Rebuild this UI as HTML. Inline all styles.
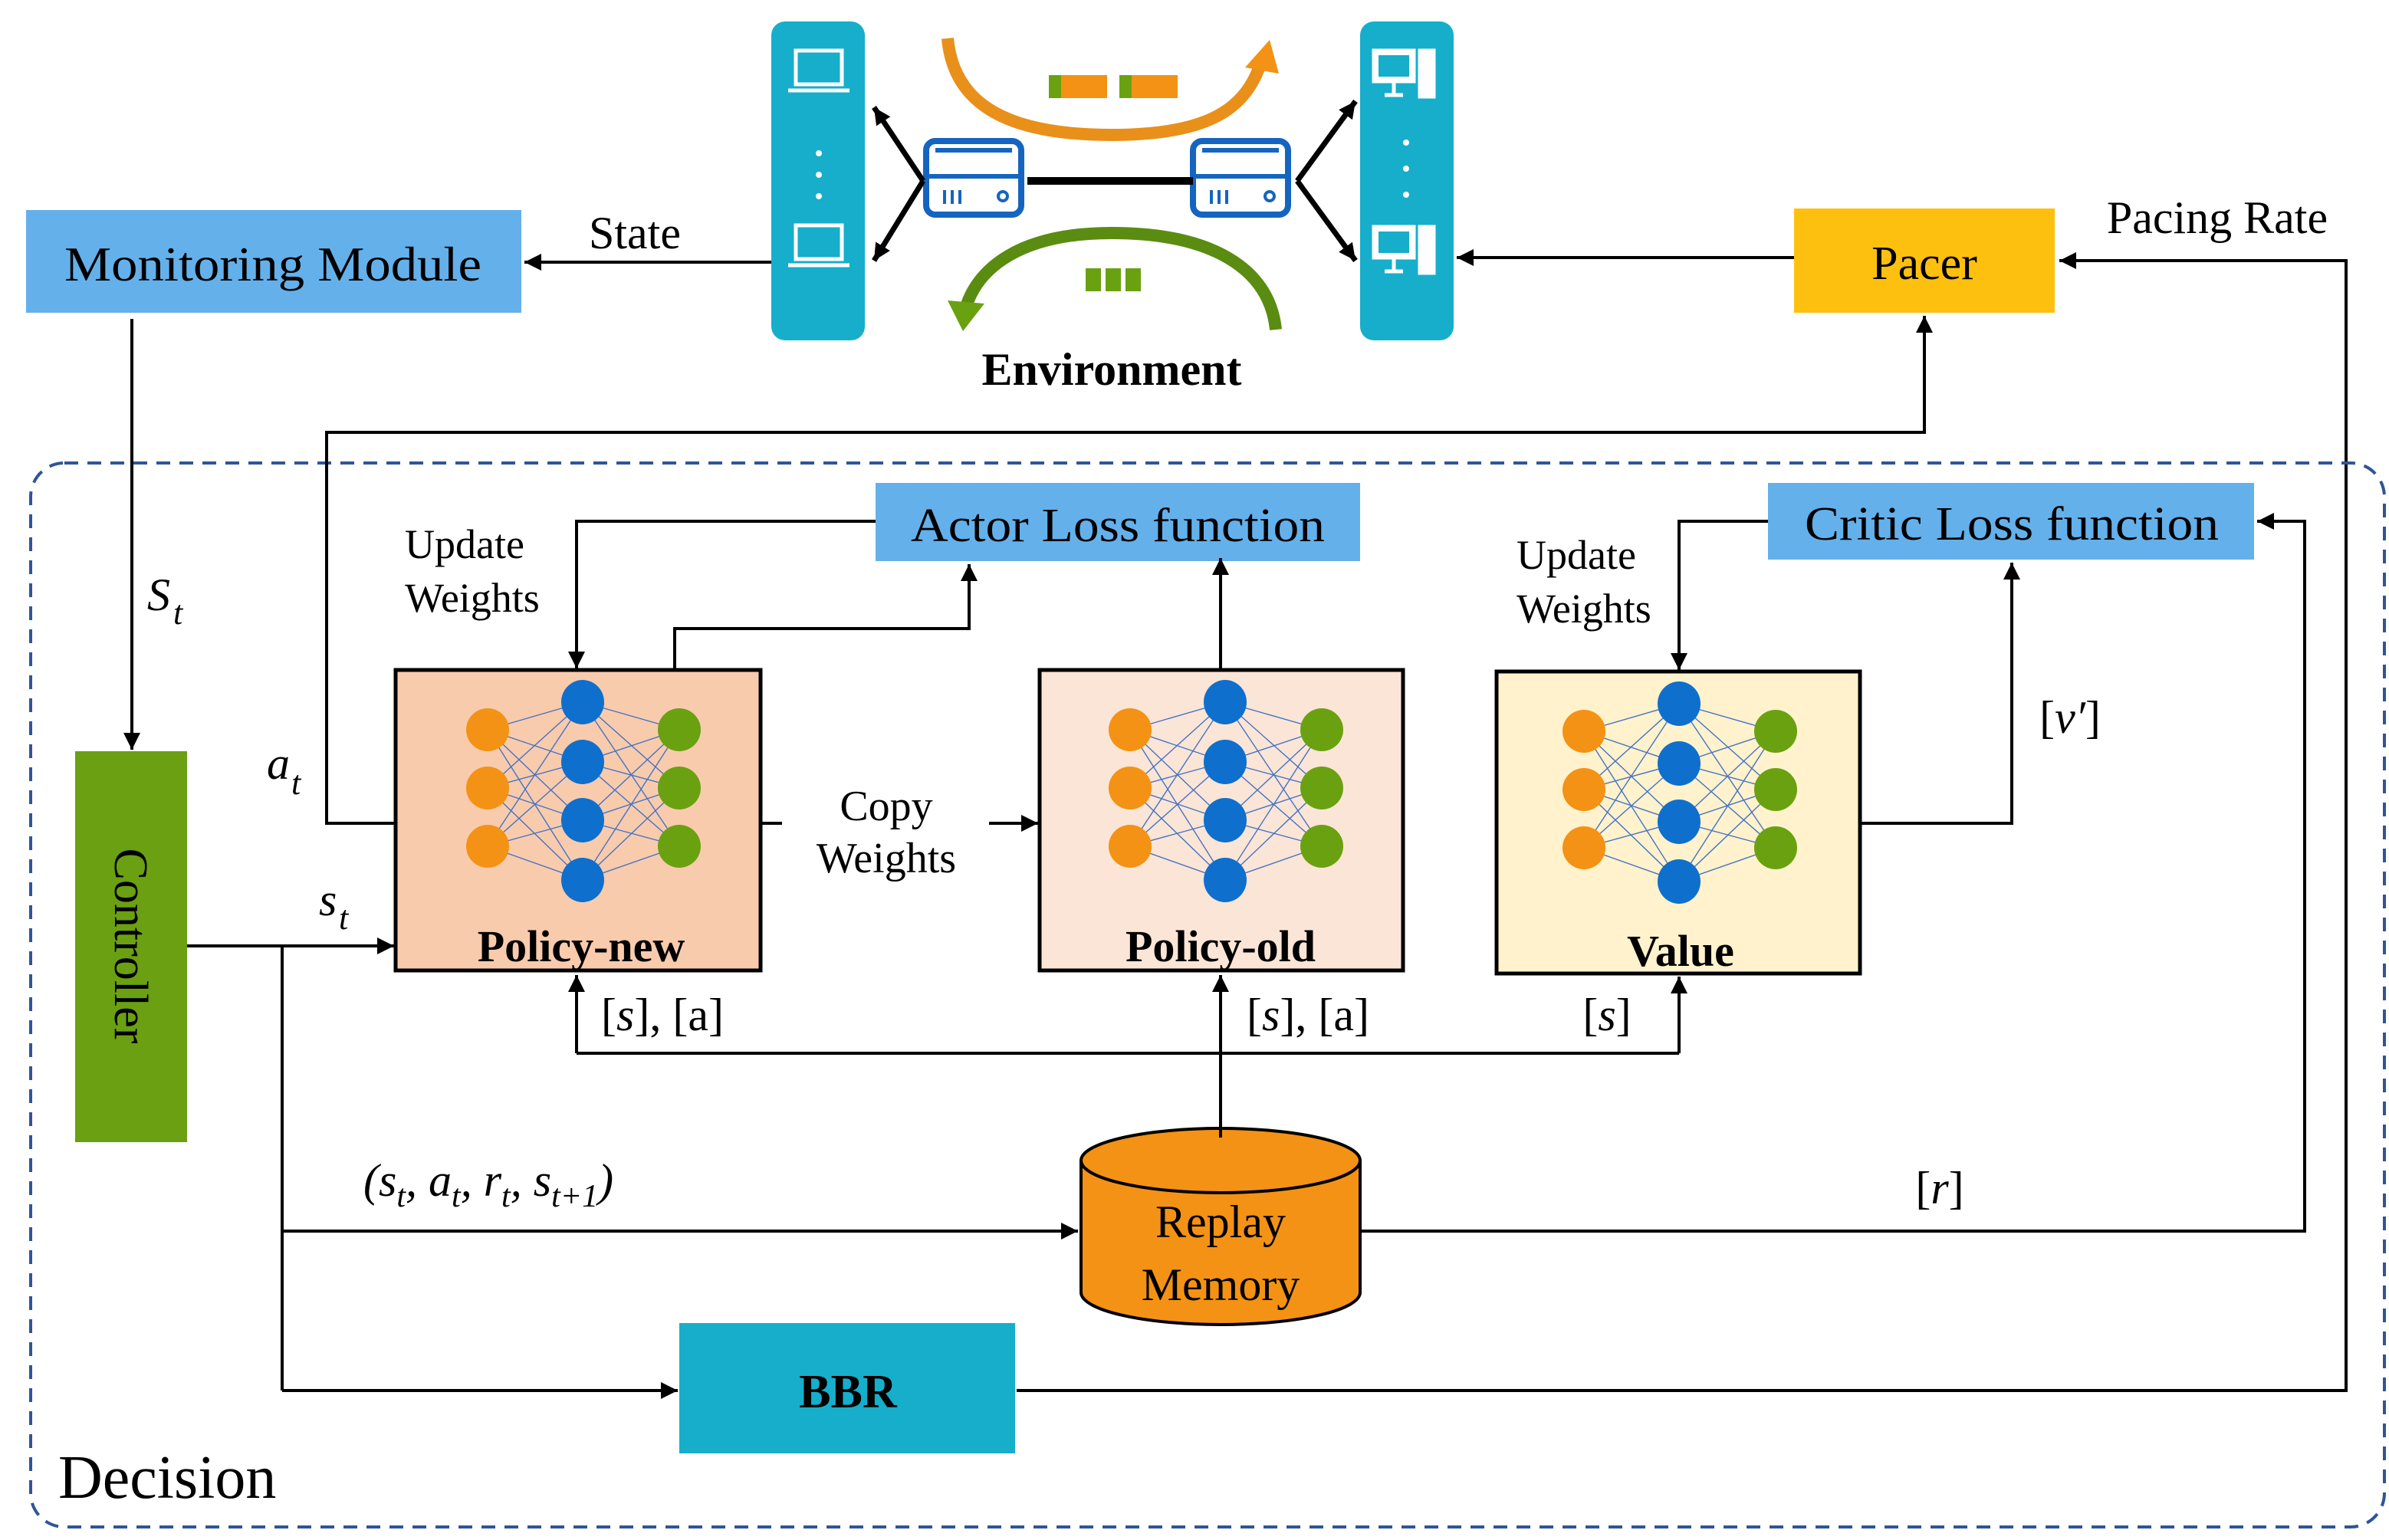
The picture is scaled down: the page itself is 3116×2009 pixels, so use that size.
<!DOCTYPE html>
<html><head><meta charset="utf-8"><style>
html,body{margin:0;padding:0;background:#fff}
svg{display:block}
text{font-family:"Liberation Serif",serif;fill:#000}
</style></head><body>
<svg width="3116" height="2009" viewBox="0 0 1558 1004.5" xmlns="http://www.w3.org/2000/svg">
<defs>
<marker id="ar" viewBox="0 0 10 10" refX="10" refY="5" markerWidth="5" markerHeight="5" orient="auto" markerUnits="userSpaceOnUse">
<path d="M0,0 L10,5 L0,10 z" fill="#000"/></marker>
<marker id="ar2" viewBox="0 0 10 10" refX="10" refY="5" markerWidth="11" markerHeight="11" orient="auto" markerUnits="userSpaceOnUse">
<path d="M0,0 L10,5 L0,10 z" fill="#000"/></marker>
<g id="nn">
<g stroke="#4472c4" stroke-width="0.7">
<path d="M60,39L122,21M60,39L122,60M60,39L122,98M60,39L122,137M60,77L122,21M60,77L122,60M60,77L122,98M60,77L122,137M60,115L122,21M60,115L122,60M60,115L122,98M60,115L122,137"/>
<path d="M185,39L122,21M185,39L122,60M185,39L122,98M185,39L122,137M185,77L122,21M185,77L122,60M185,77L122,98M185,77L122,137M185,115L122,21M185,115L122,60M185,115L122,98M185,115L122,137"/>
</g>
<g fill="#f39214"><ellipse cx="60" cy="39" rx="14" ry="14"/><ellipse cx="60" cy="77" rx="14" ry="14"/><ellipse cx="60" cy="115" rx="14" ry="14"/></g>
<g fill="#0f6fcd"><ellipse cx="122" cy="21" rx="14" ry="14.5"/><ellipse cx="122" cy="60" rx="14" ry="14.5"/><ellipse cx="122" cy="98" rx="14" ry="14.5"/><ellipse cx="122" cy="137" rx="14" ry="14.5"/></g>
<g fill="#6aa111"><ellipse cx="185" cy="39" rx="14" ry="14"/><ellipse cx="185" cy="77" rx="14" ry="14"/><ellipse cx="185" cy="115" rx="14" ry="14"/></g>
</g>
<g id="router">
<rect x="2" y="2" width="62" height="48" rx="6" fill="#fff" stroke="#1565c0" stroke-width="4"/>
<path d="M4,25 H62 M8,8 H58" stroke="#1565c0" stroke-width="3"/>
<path d="M14,34 v9 M19,34 v9 M24,34 v9" stroke="#1565c0" stroke-width="2"/>
<circle cx="52" cy="38" r="3" fill="none" stroke="#1565c0" stroke-width="2"/>
</g>
<g id="laptop" fill="none" stroke="#fff" stroke-width="2.5">
<rect x="-15" y="-13" width="30" height="22"/><path d="M-20,13 H20"/>
</g>
<g id="desk" fill="none" stroke="#fff" stroke-width="2.5">
<rect x="-20" y="-14" width="26" height="20" fill="#fff"/><rect x="-17" y="-11" width="20" height="14" fill="#16aecb" stroke="none"/>
<path d="M-7,6 v8 M-13,15 H-1"/><rect x="10" y="-14" width="9" height="30" fill="#fff"/>
</g>
</defs>

<!-- Monitoring Module -->
<rect x="17" y="137" width="323" height="67" fill="#64b0ea"/>
<text x="178" y="183" font-size="32" text-anchor="middle" textLength="272" lengthAdjust="spacingAndGlyphs">Monitoring Module</text>
<text x="414" y="162" font-size="30" text-anchor="middle">State</text>
<line x1="503" y1="171" x2="342" y2="171" stroke="#000" stroke-width="2" marker-end="url(#ar2)"/>

<!-- Environment -->
<rect x="503" y="14" width="61" height="208" rx="9" fill="#16aecb"/>
<rect x="887" y="14" width="61" height="208" rx="9" fill="#16aecb"/>
<use href="#laptop" x="534" y="46"/><use href="#laptop" x="534" y="160"/>
<g fill="#fff"><circle cx="534" cy="100" r="2"/><circle cx="534" cy="114" r="2"/><circle cx="534" cy="128" r="2"/>
<circle cx="917" cy="93" r="2"/><circle cx="917" cy="110" r="2"/><circle cx="917" cy="127" r="2"/></g>
<use href="#desk" x="916" y="47"/><use href="#desk" x="916" y="162"/>
<use href="#router" x="602" y="90"/><use href="#router" x="776" y="90"/>
<line x1="670" y1="118" x2="778" y2="118" stroke="#000" stroke-width="5"/>
<g stroke="#000" stroke-width="3.5">
<line x1="602" y1="118" x2="570" y2="70" marker-end="url(#ar2)"/>
<line x1="602" y1="118" x2="570" y2="170" marker-end="url(#ar2)"/>
<line x1="846" y1="118" x2="884" y2="66" marker-end="url(#ar2)"/>
<line x1="846" y1="118" x2="884" y2="170" marker-end="url(#ar2)"/>
</g>
<path d="M618,25 C622,70 660,88 725,88 C790,88 812,70 822,42" fill="none" stroke="#e8901a" stroke-width="8"/>
<path d="M812,44 L828,26 L834,48 z" fill="#f39214"/>
<rect x="684" y="49" width="8" height="15" fill="#6aa111"/><rect x="692" y="49" width="30" height="15" fill="#f39214"/>
<rect x="730" y="49" width="8" height="15" fill="#6aa111"/><rect x="738" y="49" width="30" height="15" fill="#f39214"/>
<path d="M832,215 C828,175 790,152 725,152 C665,152 638,175 630,200" fill="none" stroke="#5a8c12" stroke-width="8"/>
<path d="M618,196 L628,216 L642,198 z" fill="#6aa111"/>
<rect x="708" y="175" width="10" height="15" fill="#6aa111"/><rect x="721" y="175" width="10" height="15" fill="#6aa111"/><rect x="734" y="175" width="10" height="15" fill="#6aa111"/>
<text x="725" y="251" font-size="30" font-weight="bold" text-anchor="middle">Environment</text>

<!-- Pacer -->
<rect x="1170" y="136" width="170" height="68" fill="#fec00f"/>
<text x="1255" y="182" font-size="31" text-anchor="middle">Pacer</text>
<line x1="1170" y1="168" x2="950" y2="168" stroke="#000" stroke-width="2" marker-end="url(#ar2)"/>
<text x="1446" y="152" font-size="30" text-anchor="middle">Pacing Rate</text>
<polyline points="663,907 1530,907 1530,170 1343,170" fill="none" stroke="#000" stroke-width="2" marker-end="url(#ar2)"/>

<!-- Decision frame -->
<rect x="20" y="302" width="1535" height="694" rx="22" fill="none" stroke="#2f5597" stroke-width="2" stroke-dasharray="9,6"/>
<text x="38" y="977" font-size="40">Decision</text>

<!-- Monitoring -> Controller -->
<line x1="86" y1="208" x2="86" y2="489" stroke="#000" stroke-width="2" marker-end="url(#ar2)"/>
<text x="96" y="398" font-size="30" font-style="italic">S</text><text x="113" y="407" font-size="22" font-style="italic">t</text>
<rect x="49" y="490" width="73" height="255" fill="#6aa012"/>
<text transform="translate(75,617) rotate(90)" font-size="31" text-anchor="middle">Controller</text>

<!-- a_t -->
<polyline points="258,537 213,537 213,282 1255,282 1255,206" fill="none" stroke="#000" stroke-width="2" marker-end="url(#ar2)"/>
<text x="174" y="508" font-size="30" font-style="italic">a</text><text x="190" y="518" font-size="22" font-style="italic">t</text>

<!-- Controller -> policy / replay / BBR -->
<line x1="122" y1="617" x2="257" y2="617" stroke="#000" stroke-width="2" marker-end="url(#ar2)"/>
<text x="208" y="597" font-size="30" font-style="italic">s</text><text x="221" y="606" font-size="22" font-style="italic">t</text>
<line x1="184" y1="617" x2="184" y2="907" stroke="#000" stroke-width="2"/>
<line x1="184" y1="803" x2="703" y2="803" stroke="#000" stroke-width="2" marker-end="url(#ar2)"/>
<line x1="184" y1="907" x2="442" y2="907" stroke="#000" stroke-width="2" marker-end="url(#ar2)"/>
<text x="237" y="780" font-size="30" font-style="italic">(s<tspan font-size="21" dy="7">t</tspan><tspan dy="-7">, a</tspan><tspan font-size="21" dy="7">t</tspan><tspan dy="-7">, r</tspan><tspan font-size="21" dy="7">t</tspan><tspan dy="-7">, s</tspan><tspan font-size="21" dy="7">t+1</tspan><tspan dy="-7">)</tspan></text>

<!-- BBR -->
<rect x="443" y="863" width="219" height="85" fill="#16aecb"/>
<text x="553" y="918" font-size="31" font-weight="bold" text-anchor="middle">BBR</text>

<!-- Replay memory -->
<path d="M705,757 V843 A91,21 0 0 0 887,843 V757" fill="#f39214" stroke="#000" stroke-width="2"/>
<ellipse cx="796" cy="757" rx="91" ry="21" fill="#f39214" stroke="#000" stroke-width="2"/>
<text x="796" y="807" font-size="30" text-anchor="middle">Replay</text>
<text x="796" y="848" font-size="30" text-anchor="middle">Memory</text>
<polyline points="887,803 1503,803 1503,340 1472,340" fill="none" stroke="#000" stroke-width="2" marker-end="url(#ar2)"/>
<text x="1265" y="785" font-size="30" text-anchor="middle">[<tspan font-style="italic">r</tspan>]</text>

<!-- Replay -> networks -->
<line x1="796" y1="742" x2="796" y2="687" stroke="#000" stroke-width="2"/>
<line x1="376" y1="687" x2="1095" y2="687" stroke="#000" stroke-width="2"/>
<line x1="376" y1="687" x2="376" y2="636" stroke="#000" stroke-width="2" marker-end="url(#ar2)"/>
<line x1="796" y1="687" x2="796" y2="636" stroke="#000" stroke-width="2" marker-end="url(#ar2)"/>
<line x1="1095" y1="687" x2="1095" y2="637" stroke="#000" stroke-width="2" marker-end="url(#ar2)"/>
<text x="432" y="672" font-size="30" text-anchor="middle">[<tspan font-style="italic">s</tspan>], [a]</text>
<text x="853" y="672" font-size="30" text-anchor="middle">[<tspan font-style="italic">s</tspan>], [a]</text>
<text x="1048" y="672" font-size="30" text-anchor="middle">[<tspan font-style="italic">s</tspan>]</text>

<!-- Networks -->
<rect x="258" y="437" width="238" height="196" fill="#f8cbad" stroke="#000" stroke-width="2.5"/>
<use href="#nn" x="258" y="437"/>
<text x="379" y="627" font-size="29" font-weight="bold" text-anchor="middle">Policy-new</text>
<rect x="678" y="437" width="237" height="196" fill="#fbe5d6" stroke="#000" stroke-width="2.5"/>
<use href="#nn" x="677" y="437"/>
<text x="796" y="627" font-size="29" font-weight="bold" text-anchor="middle">Policy-old</text>
<rect x="976" y="438" width="237" height="197" fill="#fff2cc" stroke="#000" stroke-width="2.5"/>
<use href="#nn" x="973" y="438"/>
<text x="1096" y="630" font-size="29" font-weight="bold" text-anchor="middle">Value</text>

<!-- Copy weights -->
<line x1="496" y1="537" x2="677" y2="537" stroke="#000" stroke-width="2" marker-end="url(#ar2)"/>
<rect x="510" y="497" width="135" height="90" fill="#fff"/>
<text x="578" y="535" font-size="28" text-anchor="middle">Copy</text>
<text x="578" y="569" font-size="28" text-anchor="middle">Weights</text>

<!-- Loss functions -->
<rect x="571" y="315" width="316" height="51" fill="#64b0ea"/>
<text x="729" y="353" font-size="31" text-anchor="middle" textLength="270" lengthAdjust="spacingAndGlyphs">Actor Loss function</text>
<rect x="1153" y="315" width="317" height="50" fill="#64b0ea"/>
<text x="1312" y="352" font-size="31" text-anchor="middle" textLength="270" lengthAdjust="spacingAndGlyphs">Critic Loss function</text>
<polyline points="571,340 376,340 376,436" fill="none" stroke="#000" stroke-width="2" marker-end="url(#ar2)"/>
<text x="303" y="364" font-size="27" text-anchor="middle">Update</text>
<text x="308" y="399" font-size="27" text-anchor="middle">Weights</text>
<polyline points="440,437 440,410 632,410 632,368" fill="none" stroke="#000" stroke-width="2" marker-end="url(#ar2)"/>
<line x1="796" y1="437" x2="796" y2="364" stroke="#000" stroke-width="2" marker-end="url(#ar2)"/>
<polyline points="1153,340 1095,340 1095,437" fill="none" stroke="#000" stroke-width="2" marker-end="url(#ar2)"/>
<text x="1028" y="371" font-size="27" text-anchor="middle">Update</text>
<text x="1033" y="406" font-size="27" text-anchor="middle">Weights</text>
<polyline points="1213,537 1312,537 1312,367" fill="none" stroke="#000" stroke-width="2" marker-end="url(#ar2)"/>
<text x="1350" y="478" font-size="30" text-anchor="middle">[<tspan font-style="italic">v′</tspan>]</text>
</svg>
</body></html>
